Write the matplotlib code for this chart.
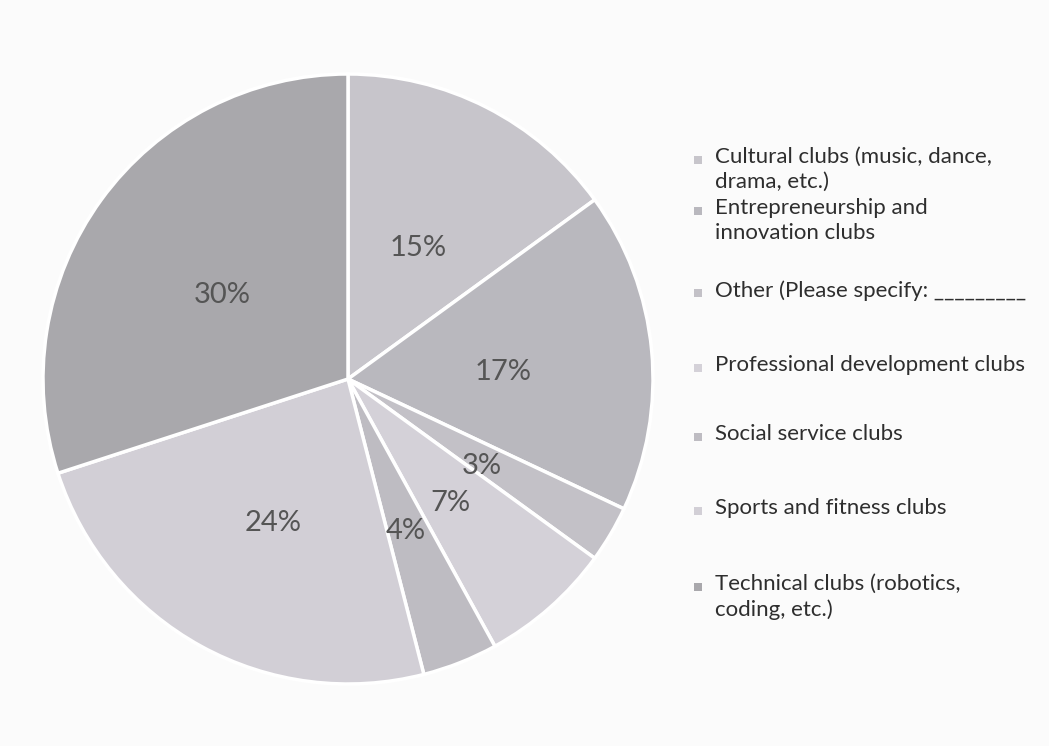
import matplotlib
matplotlib.use("Agg")
import matplotlib.pyplot as plt
from matplotlib.patches import Rectangle

categories = [
    "Cultural clubs (music, dance,\ndrama, etc.)",
    "Entrepreneurship and\ninnovation clubs",
    "Other (Please specify: _________",
    "Professional development clubs",
    "Social service clubs",
    "Sports and fitness clubs",
    "Technical clubs (robotics,\ncoding, etc.)",
]
values = [15, 17, 3, 7, 4, 24, 30]
colors = ["#c7c5cb", "#b9b8be", "#c3c1c7", "#d4d1d8", "#bebcc2", "#d2cfd6", "#a9a8ac"]

W, H = 1049, 746
fig = plt.figure(figsize=(W / 100, H / 100), dpi=100)
fig.patch.set_facecolor("#fbfbfb")

cx, cy, R = 348, 379, 305
ax = fig.add_axes([(cx - R) / W, (H - cy - R) / H, 2 * R / W, 2 * R / H])
wedges, texts = ax.pie(
    values,
    colors=colors,
    startangle=90,
    counterclock=False,
    labels=[f"{v}%" for v in values],
    labeldistance=0.51,
    wedgeprops=dict(edgecolor="white", linewidth=2.5),
    textprops=dict(fontsize=21, color="#555555", ha="center", va="center", family="Lato"),
)
for t in texts:
    x, y = t.get_position()
    t.set_position((x, y - 0.025))
ax.set_xlim(-1, 1)
ax.set_ylim(-1, 1)
ax.set_aspect("equal")

# legend drawn entry by entry (layout constants, pixels)
row_first_line_y = [160, 211, 293, 368, 437, 511, 587]
text_x, marker_x, msize = 715, 698, 8
for lab, col, y in zip(categories, colors, row_first_line_y):
    fig.text(text_x / W, 1 - (y - 13) / H, lab, ha="left", va="top",
             fontsize=16, family="Lato", color="#2e2e2e", linespacing=1.32)
    fig.add_artist(Rectangle(((marker_x - msize / 2) / W, 1 - (y + msize / 2) / H),
                             msize / W, msize / H, transform=fig.transFigure,
                             facecolor=col, edgecolor="none"))

fig.savefig("out.png", dpi=100, facecolor=fig.get_facecolor())
